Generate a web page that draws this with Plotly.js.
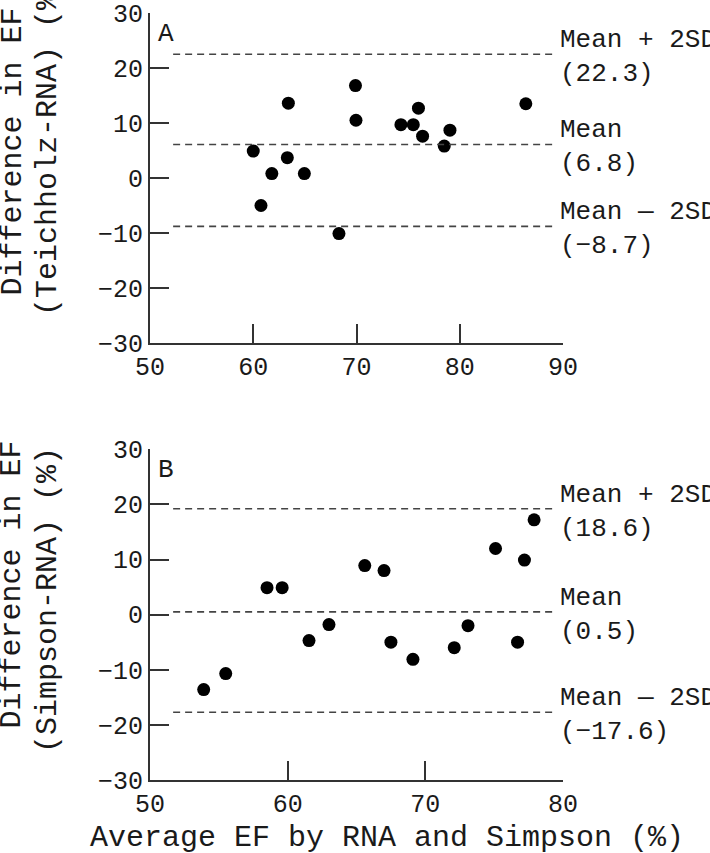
<!DOCTYPE html>
<html>
<head>
<meta charset="utf-8">
<script src="https://cdn.plot.ly/plotly-3.0.1.min.js"></script>
<style>html,body{margin:0;padding:0;background:#fff;}#chart{width:710px;height:853px;}</style>
</head>
<body>
<div id="chart"></div>
<script>
// Panel A: Teichholz - RNA
const avgA  = [60.0, 63.4, 61.8, 63.3, 64.95, 60.75, 68.3, 69.9, 69.95, 74.3, 75.5, 76.0, 76.4, 79.05, 78.5, 86.4];
const diffA = [4.9, 13.6, 0.8, 3.7, 0.8, -5.0, -10.1, 16.8, 10.5, 9.7, 9.7, 12.7, 7.6, 8.7, 5.8, 13.5];
const limitsA = [22.5, 6.1, -8.8];            // drawn positions of Mean+2SD, Mean, Mean-2SD
const limitLabelsA = ["Mean + 2SD<br>(22.3)", "Mean<br>(6.8)", "Mean — 2SD<br>(−8.7)"];

// Panel B: Simpson - RNA
const avgB  = [53.9, 55.5, 58.5, 59.6, 61.55, 63.0, 65.6, 67.0, 67.5, 69.1, 72.1, 73.1, 75.1, 76.7, 77.2, 77.9];
const diffB = [-13.6, -10.7, 4.9, 4.9, -4.7, -1.8, 8.9, 8.0, -5.0, -8.1, -6.0, -2.0, 12.0, -5.0, 9.9, 17.2];
const limitsB = [19.2, 0.5, -17.7];
const limitLabelsB = ["Mean + 2SD<br>(18.6)", "Mean<br>(0.5)", "Mean — 2SD<br>(−17.6)"];

const xRangeA = [50, 90];
const xRangeB = [50, 80];
const yRange = [-30, 30];

const FONT = "Liberation Mono, Courier New, monospace";
const TXT = "#1a1a1a";
const AX = "#333333";

const marker = {symbol: "circle", size: 13, color: "#000"};
const data = [
  {x: avgA, y: diffA, xaxis: "x", yaxis: "y", type: "scatter", mode: "markers", marker: marker, hoverinfo: "skip"},
  {x: avgB, y: diffB, xaxis: "x2", yaxis: "y2", type: "scatter", mode: "markers", marker: marker, hoverinfo: "skip"}
];

function axisBase(range) {
  return {
    range: range, dtick: 10, tick0: 0, autorange: false,
    showline: true, linecolor: AX, linewidth: 2, mirror: false,
    ticks: "inside", ticklen: 19, tickwidth: 2, tickcolor: AX,
    showgrid: false, zeroline: false,
    tickfont: {family: FONT, size: 25, color: TXT},
    fixedrange: true
  };
}

const shapes = [];
const annotations = [];
function addLimits(limits, labels, xref, yref) {
  limits.forEach((v, i) => {
    shapes.push({type: "line", xref: xref + " domain", yref: yref, x0: 0.056, x1: 0.976, y0: v, y1: v,
                 line: {color: "#444", width: 1.6, dash: "7px,5px"}});
    annotations.push({xref: "paper", yref: yref, x: 0.988, y: v, xanchor: "left", yanchor: "middle",
                      yshift: -3, align: "left", showarrow: false, text: labels[i],
                      font: {family: FONT, size: 26, color: TXT}});
  });
}
addLimits(limitsA, limitLabelsA, "x", "y");
addLimits(limitsB, limitLabelsB, "x2", "y2");

annotations.push({xref: "x domain", yref: "y domain", x: 0.039, y: 0.936, xanchor: "center", yanchor: "middle",
                  showarrow: false, text: "A", font: {family: FONT, size: 26, color: TXT}});
annotations.push({xref: "x2 domain", yref: "y2 domain", x: 0.039, y: 0.936, xanchor: "center", yanchor: "middle",
                  showarrow: false, text: "B", font: {family: FONT, size: 26, color: TXT}});

const titleFont = {family: FONT, size: 30, color: TXT};
annotations.push({xref: "paper", yref: "paper", x: -0.334, y: 0.8194, xanchor: "center", yanchor: "middle",
                  textangle: -90, showarrow: false, text: "Difference in EF", font: titleFont});
annotations.push({xref: "paper", yref: "paper", x: -0.247, y: 0.8279, xanchor: "center", yanchor: "middle",
                  textangle: -90, showarrow: false, text: "(Teichholz-RNA) (%)", font: titleFont});
annotations.push({xref: "paper", yref: "paper", x: -0.334, y: 0.2549, xanchor: "center", yanchor: "middle",
                  textangle: -90, showarrow: false, text: "Difference in EF", font: titleFont});
annotations.push({xref: "paper", yref: "paper", x: -0.247, y: 0.2347, xanchor: "center", yanchor: "middle",
                  textangle: -90, showarrow: false, text: "(Simpson-RNA) (%)", font: titleFont});
annotations.push({xref: "paper", yref: "paper", x: 0.575, y: -0.0756, xanchor: "center", yanchor: "middle",
                  showarrow: false, text: "Average EF by RNA and Simpson (%)", font: titleFont});

const layout = {
  width: 710, height: 853,
  margin: {l: 150, r: 147, t: 13, b: 73},
  paper_bgcolor: "#fff", plot_bgcolor: "#fff",
  showlegend: false,
  xaxis: Object.assign(axisBase(xRangeA), {domain: [0, 1], anchor: "y"}),
  yaxis: Object.assign(axisBase(yRange), {domain: [0.5698, 1], anchor: "x"}),
  xaxis2: Object.assign(axisBase(xRangeB), {domain: [0, 1], anchor: "y2"}),
  yaxis2: Object.assign(axisBase(yRange), {domain: [0, 0.4312], anchor: "x2"}),
  shapes: shapes,
  annotations: annotations
};

Plotly.newPlot("chart", data, layout, {staticPlot: true, displayModeBar: false});
</script>
</body>
</html>
